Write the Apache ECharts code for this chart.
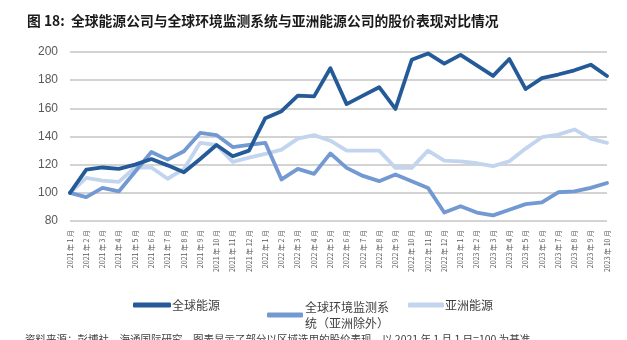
<!DOCTYPE html>
<html>
<head>
<meta charset="utf-8">
<script src="https://cdn.jsdelivr.net/npm/echarts@6/dist/echarts.min.js"></script>
<style>
  html, body { margin: 0; padding: 0; background: #fff; }
  #chart { width: 627px; height: 340px; }
</style>
</head>
<body>
<div id="chart"></div>
<script>
// Monthly categories, Jan 2021 to Oct 2023
const months = [
  '2021 年 1 月','2021 年 2 月','2021 年 3 月','2021 年 4 月','2021 年 5 月','2021 年 6 月',
  '2021 年 7 月','2021 年 8 月','2021 年 9 月','2021 年 10 月','2021 年 11 月','2021 年 12 月',
  '2022 年 1 月','2022 年 2 月','2022 年 3 月','2022 年 4 月','2022 年 5 月','2022 年 6 月',
  '2022 年 7 月','2022 年 8 月','2022 年 9 月','2022 年 10 月','2022 年 11 月','2022 年 12 月',
  '2023 年 1 月','2023 年 2 月','2023 年 3 月','2023 年 4 月','2023 年 5 月','2023 年 6 月',
  '2023 年 7 月','2023 年 8 月','2023 年 9 月','2023 年 10 月'
];

// Rebased share-price indices (2021-01 = 100)
const globalEnergy = [
  100, 116.5, 118, 117, 120, 124, 119.5, 114.6, 124, 134, 126, 130,
  153, 158, 169, 168.5, 188.5, 163, 169, 175, 159.6, 194.5, 199, 191.7,
  198, 190.5, 183, 195, 173.7, 181.5, 184, 187, 191, 183
];
const globalEnvMonitoring = [
  100, 97, 103.5, 101, 115, 129, 123.6, 129.5, 142.5, 141, 132.5, 134,
  135.5, 109.5, 117, 113.5, 128, 117.7, 112, 108.3, 113, 108.3, 103.5, 86,
  90.5, 86, 84, 88, 92, 93.3, 100.4, 101, 103.5, 107
];
const asiaEnergy = [
  100, 110.6, 108.7, 107.8, 118, 118, 110, 117, 135.5, 134, 122, 125,
  127.6, 130.7, 138.5, 141, 137, 130, 130, 130, 117.7, 117.7, 130, 122.9,
  122.4, 121, 119, 122.4, 131.4, 139.5, 141.3, 145, 138.5, 135.5
];

const yTicks = { min: 80, max: 200, step: 20 };

const seriesNames = ['全球能源', '全球环境监测系统（亚洲除外）', '亚洲能源'];
const seriesColors = ['#245a97', '#7399d3', '#c3d5ee'];

const chart = echarts.init(document.getElementById('chart'), null, { renderer: 'canvas' });

const legendBase = {
  orient: 'horizontal',
  padding: 0,
  itemWidth: 38,
  itemHeight: 5,
  itemGap: 0,
  icon: 'roundRect',
  selectedMode: false,
  textStyle: { fontSize: 12, color: '#404040', fontFamily: 'Noto Sans CJK SC', padding: [0, 0, 0, -4] }
};

chart.setOption({
  animation: false,
  textStyle: { fontFamily: 'Noto Sans CJK SC' },
  title: {
    text: '图 18:  全球能源公司与全球环境监测系统与亚洲能源公司的股价表现对比情况',
    left: 27,
    top: 14,
    padding: 0,
    textStyle: { fontSize: 13.8, fontWeight: 'bold', color: '#1a1a1a', fontFamily: 'Noto Sans CJK SC' }
  },
  grid: { left: 70, right: 20, top: 52, bottom: 119, containLabel: false },
  legend: [
    Object.assign({}, legendBase, { left: 133, top: 299, data: [seriesNames[0]] }),
    Object.assign({}, legendBase, {
      left: 267, top: 291, itemWidth: 36,
      data: [{ name: seriesNames[1], textStyle: { padding: [16, 0, 0, -3], lineHeight: 16 } }],
      formatter: function () { return '全球环境监测系\n统（亚洲除外）'; }
    }),
    Object.assign({}, legendBase, { left: 408, top: 299, itemWidth: 36, data: [seriesNames[2]] })
  ],
  xAxis: {
    type: 'category',
    data: months,
    boundaryGap: false,
    axisLine: { show: false },
    axisTick: { show: false },
    axisLabel: {
      rotate: 90,
      interval: 0,
      fontSize: 7,
      color: '#595959',
      margin: 9,
      fontFamily: 'Noto Sans CJK SC'
    }
  },
  yAxis: {
    type: 'value',
    min: yTicks.min,
    max: yTicks.max,
    interval: yTicks.step,
    axisLine: { show: false },
    axisTick: { show: false },
    axisLabel: { fontSize: 12, color: '#595959', margin: 12, fontFamily: 'Liberation Sans' },
    splitLine: { lineStyle: { color: '#c4c4c4', width: 1.5 } }
  },
  series: [
    { name: seriesNames[2], type: 'line', data: asiaEnergy, z: 1 },
    { name: seriesNames[1], type: 'line', data: globalEnvMonitoring, z: 2 },
    { name: seriesNames[0], type: 'line', data: globalEnergy, z: 3 }
  ].map(function (s) {
    const c = seriesColors[seriesNames.indexOf(s.name)];
    return Object.assign(s, {
      symbol: 'none',
      color: c,
      lineStyle: { width: 3.8, color: c, cap: 'round', join: 'round' }
    });
  }),
  graphic: [{
    type: 'text',
    left: 25,
    top: 334,
    style: {
      text: '资料来源：彭博社，海通国际研究，图表显示了部分以区域选用的股价表现，以 2021 年 1 月 1 日=100 为基准',
      fontSize: 10.5,
      fill: '#404040',
      fontFamily: 'Noto Sans CJK SC'
    }
  }]
});
</script>
</body>
</html>
